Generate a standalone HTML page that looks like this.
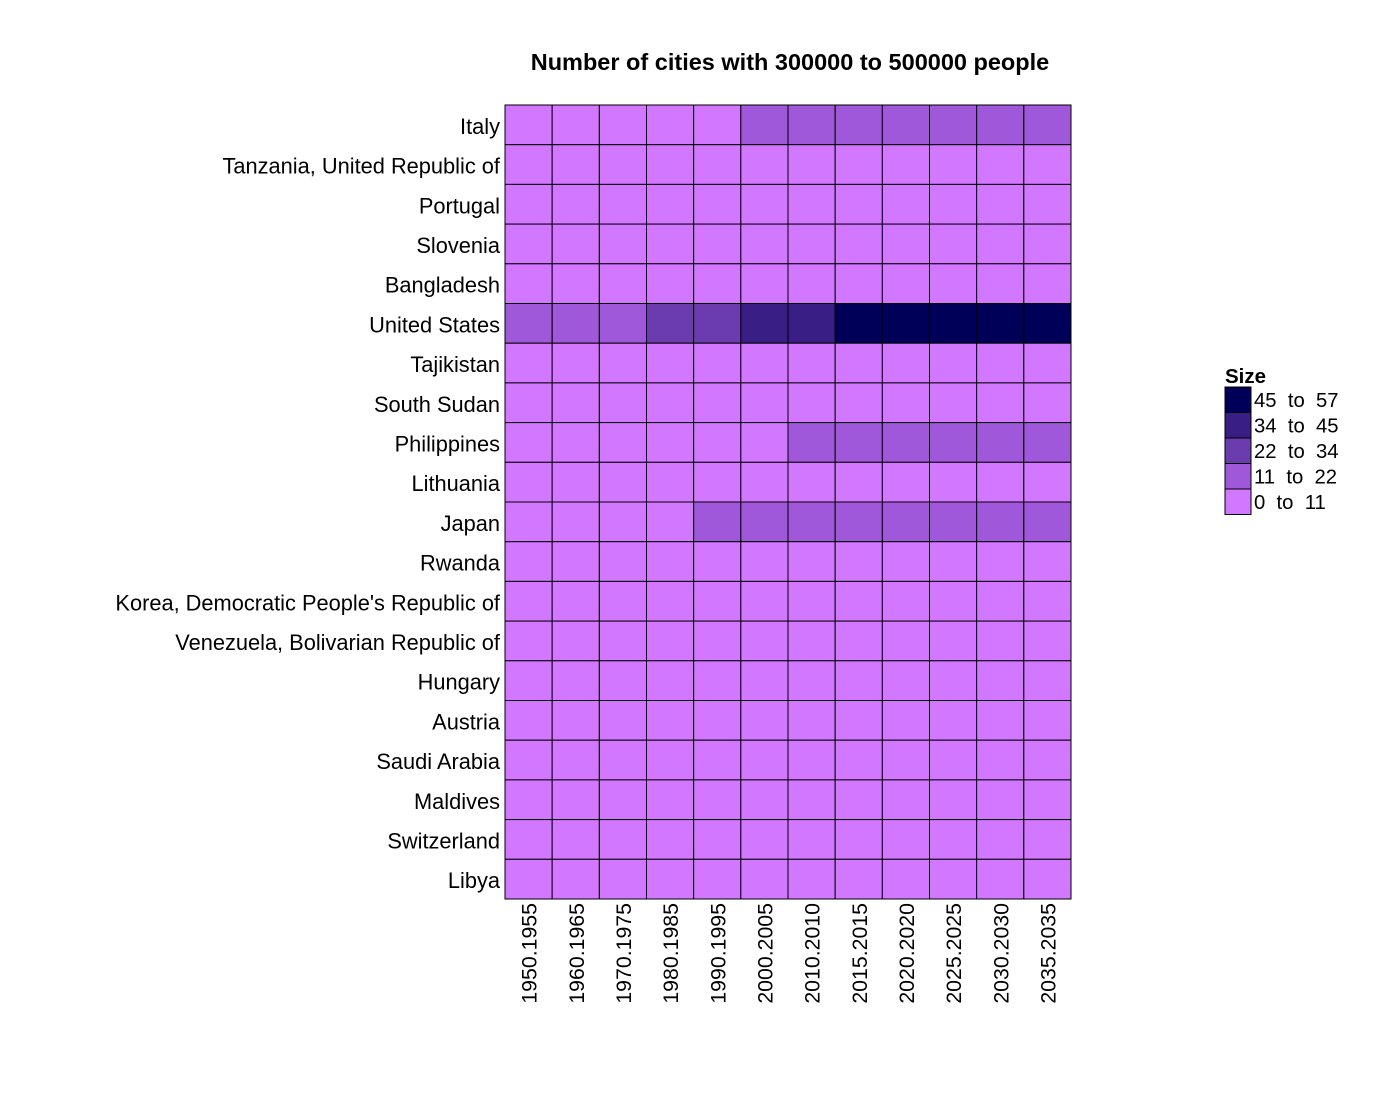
<!DOCTYPE html>
<html><head><meta charset="utf-8"><style>
body{margin:0;background:#fff}
svg text{font-family:"Liberation Sans",Arial,sans-serif;fill:#000}
</style></head><body>
<svg id="chart" width="1400" height="1100">
<text x="790" y="70" text-anchor="middle" font-size="23.5" font-weight="bold">Number of cities with 300000 to 500000 people</text>
<g id="cells"></g>
<g id="ylab"></g>
<g id="xlab"></g>
<g id="legend"><text x="1225" y="383" font-size="20.5" font-weight="bold">Size</text></g>
</svg>
<script>
const countries=["Italy","Tanzania, United Republic of","Portugal","Slovenia","Bangladesh","United States","Tajikistan","South Sudan","Philippines","Lithuania","Japan","Rwanda","Korea, Democratic People's Republic of","Venezuela, Bolivarian Republic of","Hungary","Austria","Saudi Arabia","Maldives","Switzerland","Libya"];
const periods=["1950.1955","1960.1965","1970.1975","1980.1985","1990.1995","2000.2005","2010.2010","2015.2015","2020.2020","2025.2025","2030.2030","2035.2035"];
const italy=[5,5,5,5,5,12,12,12,12,12,12,12];
const us=[15,15,15,25,25,38,38,50,50,50,50,50];
const philippines=[2,2,2,2,2,2,12,12,12,12,12,12];
const japan=[2,2,2,2,12,12,12,12,12,12,12,12];
const other=[2,2,2,2,2,2,2,2,2,2,2,2];
const binLabels=["45  to  57","34  to  45","22  to  34","11  to  22","0  to  11"];
const binMins=[45,34,22,11,0];
const binColors=["#000059","#381E85","#6B3CAD","#9F58D9","#D277FF"];
const rowData={"Italy":italy,"United States":us,"Philippines":philippines,"Japan":japan};
const NS="http://www.w3.org/2000/svg";
const x0=505,x1=1071,y0=105,y1=899;
const cw=(x1-x0)/periods.length,ch=(y1-y0)/countries.length;
const xs=i=>x0+i*cw, ys=j=>y0+j*ch;
function color(v){for(let k=0;k<binMins.length;k++){if(v>=binMins[k])return binColors[k];}return binColors[4];}
const cells=document.getElementById('cells'),yl=document.getElementById('ylab'),xl=document.getElementById('xlab'),lg=document.getElementById('legend');
countries.forEach((c,j)=>{
  const vals=rowData[c]||other;
  vals.forEach((v,i)=>{
    const r=document.createElementNS(NS,'rect');
    r.setAttribute('x',xs(i));r.setAttribute('y',ys(j));r.setAttribute('width',cw);r.setAttribute('height',ch);
    r.setAttribute('fill',color(v));r.setAttribute('stroke','#000');r.setAttribute('stroke-width','1');
    
    
    cells.appendChild(r);
  });
  const t=document.createElementNS(NS,'text');
  t.setAttribute('x',500);t.setAttribute('y',ys(j)+ch/2+9);t.setAttribute('text-anchor','end');t.setAttribute('font-size','21.8');
  t.textContent=c;
  
  
  yl.appendChild(t);
});
periods.forEach((p,i)=>{
  const t=document.createElementNS(NS,'text');
  const cx=xs(i)+cw/2+8;
  t.setAttribute('x',cx);t.setAttribute('y',903);t.setAttribute('text-anchor','end');t.setAttribute('font-size','21.3');
  t.setAttribute('transform','rotate(-90 '+cx+' 903)');
  t.textContent=p;
  
  
  xl.appendChild(t);
});
binLabels.forEach((b,k)=>{
  const y=387+k*25.5;
  const r=document.createElementNS(NS,'rect');
  r.setAttribute('x',1225);r.setAttribute('y',y);r.setAttribute('width',26);r.setAttribute('height',25.5);
  r.setAttribute('fill',binColors[k]);r.setAttribute('stroke','#000');
  
  
  lg.appendChild(r);
  const t=document.createElementNS(NS,'text');
  t.setAttribute('x',1254);t.setAttribute('y',y+20);t.setAttribute('font-size','20.3');t.setAttribute('xml:space','preserve');t.style.whiteSpace='pre';
  t.textContent=b;
  
  
  lg.appendChild(t);
});
</script>
</body></html>
